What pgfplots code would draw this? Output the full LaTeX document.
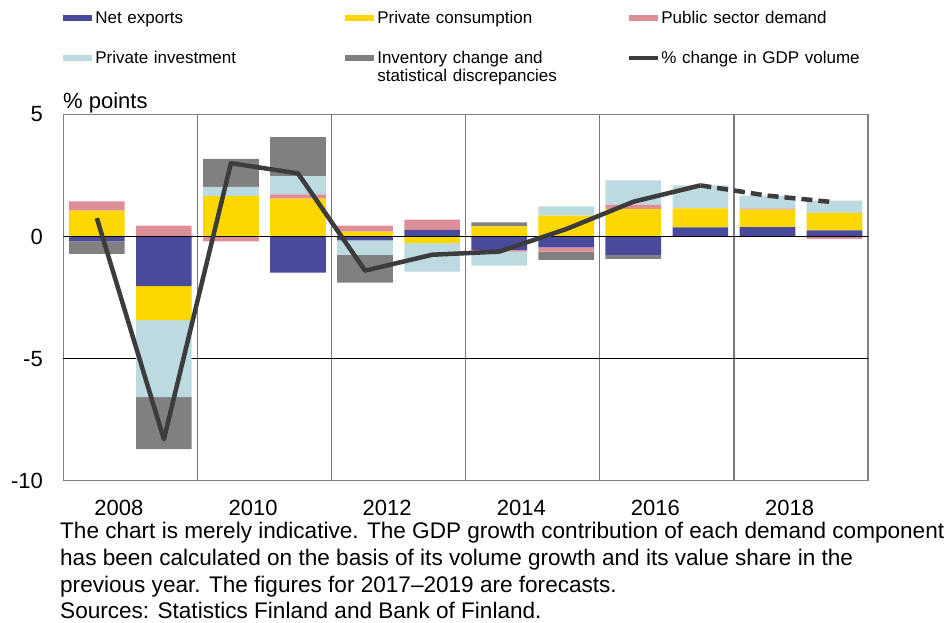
\documentclass[border=0pt]{standalone}
\usepackage{pgfplots}
\usepackage{pgfplotstable}
\pgfplotsset{compat=1.18}
\usepackage{fontspec}
\setmainfont{Liberation Sans}
\definecolor{nxcol}{HTML}{4A4A9C}
\definecolor{pccol}{HTML}{FDD700}
\definecolor{pscol}{HTML}{DE8E96}
\definecolor{picol}{HTML}{BCDAE0}
\definecolor{invcol}{HTML}{808080}
\definecolor{linecol}{HTML}{3C3C3C}
\pgfplotsset{
  base/.style={scale only axis, width=804.7pt, height=366.4pt,
    xmin=2007.5, xmax=2019.5, ymin=-10, ymax=5,
    at={(63.3pt,-480.7pt)}, anchor=south west},
}
% positive contributions (stacked upwards)
\pgfplotstableread{
year nx   pc   ps   pi   inv
2008 0    1.06 0.38 0    0
2009 0    0    0.44 0    0
2010 0    1.65 0    0.38 1.15
2011 0    1.55 0.17 0.75 1.60
2012 0    0.20 0.24 0    0
2013 0.27 0    0.42 0    0
2014 0    0.41 0    0    0.17
2015 0    0.85 0    0.38 0
2016 0    1.13 0.17 1.00 0
2017 0.37 0.78 0    0.94 0
2018 0.38 0.72 0.04 0.53 0
2019 0.25 0.71 0    0.51 0
}\postab
% negative contributions (stacked downwards)
\pgfplotstableread{
year nx    pc    ps    pi    inv
2008 -0.20 0     0     0     -0.51
2009 -2.03 -1.40 0     -3.15 -2.13
2010 0     0     -0.20 0     0
2011 -1.48 0     0     0     0
2012 -0.16 0     0     -0.59 -1.14
2013 0     -0.27 0     -1.17 0
2014 -0.55 0     -0.07 -0.58 0
2015 -0.45 0     -0.17 0     -0.34
2016 -0.75 0     0     0     -0.17
2017 0     0     0     0     0
2018 0     0     0     0     0
2019 0     0     -0.10 0     0
}\negtab
\begin{document}
\begin{tikzpicture}
\useasboundingbox (0,0) rectangle (947pt,-623pt);
% axis A: frame, grid, ticks, positive bars
\begin{axis}[base, ybar stacked, bar width=0.83,
  axis line style={draw=gray, line width=1.5pt},
  major tick length=0pt,
  xtick={2008.33,2010.33,2012.33,2014.33,2016.33,2018.33},
  xticklabels={2008,2010,2012,2014,2016,2018},
  ytick={-10,-5,0,5}, yticklabels={-10,-5,0,5},
  ticklabel style={font=\fontsize{22}{26}\selectfont},
  xticklabel style={anchor=base, inner sep=0pt, yshift=-34.3pt},
  yticklabel style={anchor=east, inner sep=0pt, xshift=-20.3pt},
  extra x ticks={2009.5,2011.5,2013.5,2015.5,2017.5},
  extra x tick labels={},
  extra x tick style={grid=major, grid style={draw=gray!95!black, line width=1.3pt}},
  extra y ticks={-5}, extra y tick labels={},
  extra y tick style={grid=major, grid style={draw=black, line width=1pt}},
]
\addplot[fill=nxcol, draw=none] table[x=year,y=nx]{\postab};
\addplot[fill=pccol, draw=none] table[x=year,y=pc]{\postab};
\addplot[fill=pscol, draw=none] table[x=year,y=ps]{\postab};
\addplot[fill=picol, draw=none] table[x=year,y=pi]{\postab};
\addplot[fill=invcol, draw=none] table[x=year,y=inv]{\postab};
\end{axis}
% axis B: negative bars
\begin{axis}[base, hide axis, ybar stacked, bar width=0.83]
\addplot[fill=nxcol, draw=none] table[x=year,y=nx]{\negtab};
\addplot[fill=pccol, draw=none] table[x=year,y=pc]{\negtab};
\addplot[fill=pscol, draw=none] table[x=year,y=ps]{\negtab};
\addplot[fill=picol, draw=none] table[x=year,y=pi]{\negtab};
\addplot[fill=invcol, draw=none] table[x=year,y=inv]{\negtab};
\end{axis}
% axis C: zero line, GDP line, legend
\begin{axis}[base, hide axis,
  legend columns=3,
  legend cell align=left,
  legend style={at={(0,1.283)}, anchor=north west, draw=none, fill=none,
    inner sep=0pt, outer sep=0pt, column sep=0pt, row sep=25.9pt,
    nodes={inner sep=0pt, font=\fontsize{17}{18}\selectfont}},
  /tikz/every even column/.append style={text width=250pt, text height=12.5pt, text depth=3.6pt},
]
\addplot[black, line width=1.2pt, forget plot] coordinates {(2007.5,0) (2019.5,0)};
\addlegendimage{legend image code/.code={\path[fill=nxcol, draw=none] (0pt,-3pt) rectangle (29pt,3pt); \path[draw=none, fill=none] (0pt,0pt) rectangle (32pt,0.1pt);}}
\addlegendentry{Net exports}
\addlegendimage{legend image code/.code={\path[fill=pccol, draw=none] (0pt,-3pt) rectangle (29pt,3pt); \path[draw=none, fill=none] (0pt,0pt) rectangle (32pt,0.1pt);}}
\addlegendentry{Private consumption}
\addlegendimage{legend image code/.code={\path[fill=pscol, draw=none] (0pt,-3pt) rectangle (29pt,3pt); \path[draw=none, fill=none] (0pt,0pt) rectangle (32pt,0.1pt);}}
\addlegendentry{Public sector demand}
\addlegendimage{legend image code/.code={\path[fill=picol, draw=none] (0pt,-3pt) rectangle (29pt,3pt); \path[draw=none, fill=none] (0pt,0pt) rectangle (32pt,0.1pt);}}
\addlegendentry{Private investment}
\addlegendimage{legend image code/.code={\path[fill=invcol, draw=none] (0pt,-3pt) rectangle (29pt,3pt); \path[draw=none, fill=none] (0pt,0pt) rectangle (32pt,0.1pt);}}
\addlegendentry{\begin{tabular}[t]{@{}l@{}}Inventory change and\\statistical discrepancies\end{tabular}}
\addplot[linecol, line width=4.5pt, line join=round,
  legend image code/.code={\path[draw=linecol, line width=4pt] (0pt,0pt) -- (29pt,0pt); \path[draw=none, fill=none] (0pt,0pt) rectangle (31pt,0.1pt);}]
  coordinates {(2008,0.75) (2009,-8.3) (2010,3.0) (2011,2.58) (2012,-1.4) (2013,-0.75) (2014,-0.62) (2015,0.3) (2016,1.42) (2017,2.09)};
\addlegendentry{\% change in GDP volume}
\addplot[linecol, line width=4.5pt, line join=round, dash pattern=on 11pt off 6pt, forget plot]
  coordinates {(2017,2.09) (2018,1.67) (2019,1.4)};
\end{axis}
\node[anchor=base west, inner sep=0pt, font=\fontsize{22}{26}\selectfont] at (63pt,-108.8pt) {\% points};
\begin{scope}[every node/.style={anchor=base west, inner sep=0pt, font=\fontsize{22.57}{26.7}\selectfont}]
\node at (60pt,-538.8pt) {The chart is merely indicative. The GDP growth contribution of each demand component};
\node at (60pt,-565.5pt) {has been calculated on the basis of its volume growth and its value share in the};
\node at (60pt,-592.2pt) {previous year. The figures for 2017--2019 are forecasts.};
\node at (60pt,-618.9pt) {Sources: Statistics Finland and Bank of Finland.};
\end{scope}
\end{tikzpicture}
\end{document}
